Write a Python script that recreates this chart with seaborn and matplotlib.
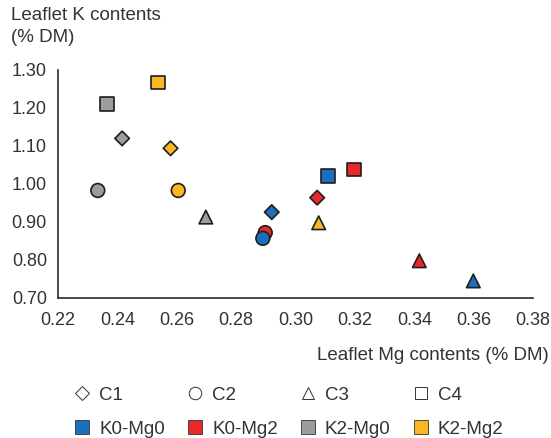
import numpy as np
import pandas as pd
import matplotlib
matplotlib.use("Agg")
import matplotlib.pyplot as plt
from matplotlib.lines import Line2D
import seaborn as sns

sns.set_theme(style="white")
plt.rcParams['font.family'] = ['Liberation Sans', 'DejaVu Sans']

# values
cultivars = ["C1", "C2", "C3", "C4"]
treatments = ["K0-Mg0", "K0-Mg2", "K2-Mg0", "K2-Mg2"]
mg_c1 = [0.2920, 0.3073, 0.2416, 0.2579]
k_c1 = [0.926, 0.964, 1.120, 1.094]
mg_c2 = [0.2898, 0.2890, 0.2334, 0.2605]   # red drawn first, blue on top
k_c2 = [0.872, 0.857, 0.983, 0.983]
trt_c2 = ["K0-Mg2", "K0-Mg0", "K2-Mg0", "K2-Mg2"]
mg_c3 = [0.3599, 0.3417, 0.2698, 0.3078]
k_c3 = [0.745, 0.798, 0.913, 0.898]
mg_c4 = [0.3110, 0.3198, 0.2365, 0.2538]
k_c4 = [1.021, 1.038, 1.210, 1.267]

x_ticks = [0.22, 0.24, 0.26, 0.28, 0.30, 0.32, 0.34, 0.36, 0.38]
y_ticks = [0.70, 0.80, 0.90, 1.00, 1.10, 1.20, 1.30]

colors = {"K0-Mg0": "#1b6fbd", "K0-Mg2": "#e8282b",
          "K2-Mg0": "#9b9c9e", "K2-Mg2": "#f9b823"}
markers = {"C1": "D", "C2": "o", "C3": "^", "C4": "s"}
sizes = {"C1": 55, "C2": 98, "C3": 95, "C4": 98}
edge = "#1e1e1e"

df = pd.DataFrame({
    "mg": mg_c1 + mg_c2 + mg_c3 + mg_c4,
    "k": k_c1 + k_c2 + k_c3 + k_c4,
    "treatment": treatments + trt_c2 + treatments + treatments,
    "cultivar": ["C1"] * 4 + ["C2"] * 4 + ["C3"] * 4 + ["C4"] * 4,
})

fig = plt.figure(figsize=(5.51, 4.38), dpi=100)
ax = fig.add_axes([58 / 551, 1 - 298 / 438, 475 / 551, 228 / 438])

for c in cultivars:
    sub = df[df["cultivar"] == c]
    sns.scatterplot(data=sub, x="mg", y="k", hue="treatment", palette=colors,
                    marker=markers[c], s=sizes[c], edgecolor=edge,
                    linewidth=1.2, legend=False, ax=ax, zorder=3)

ax.set_xlim(0.22, 0.38)
ax.set_ylim(0.70, 1.30)
ax.set_xticks(x_ticks)
ax.set_yticks(y_ticks)
ax.set_xticklabels([f"{v:.2f}" for v in x_ticks])
ax.set_yticklabels([f"{v:.2f}" for v in y_ticks])
ax.tick_params(axis="both", length=0, labelsize=13, colors="#333333")
ax.tick_params(axis="x", pad=10)
ax.tick_params(axis="y", pad=8)
ax.set_xlabel("")
ax.set_ylabel("")
sns.despine(ax=ax)
for sp in ["left", "bottom"]:
    ax.spines[sp].set_color("#2a2a2a")
    ax.spines[sp].set_linewidth(1.2)

fig.text(11 / 551, 1 - 16 / 438, "Leaflet K contents", ha="left",
         va="center", fontsize=13.5, color="#333333")
fig.text(11 / 551, 1 - 38 / 438, "(% DM)", ha="left",
         va="center", fontsize=13.5, color="#333333")
fig.text(549 / 551, 1 - 356 / 438, "Leaflet Mg contents (% DM)", ha="right",
         va="center", fontsize=13.5, color="#333333")

# legend: shapes in the first row, colours in the second
handles, labels = [], []
for c, t in zip(cultivars, treatments):
    handles.append(Line2D([], [], ls="", marker=markers[c], markersize=9 if c != "C1" else 7,
                          markerfacecolor="white", markeredgecolor="#333333",
                          markeredgewidth=0.7))
    labels.append(c)
    handles.append(Line2D([], [], ls="", marker="s", markersize=10,
                          markerfacecolor=colors[t], markeredgecolor="#333333",
                          markeredgewidth=0.6))
    labels.append(t)

fig.legend(handles, labels, ncol=4, loc="center left",
           bbox_to_anchor=(57 / 551, 1 - 412 / 438), frameon=False,
           fontsize=13.5, handlelength=0.9, handletextpad=0.45,
           columnspacing=1.16, labelspacing=0.9, labelcolor="#333333")

fig.savefig("out.png", dpi=100)
